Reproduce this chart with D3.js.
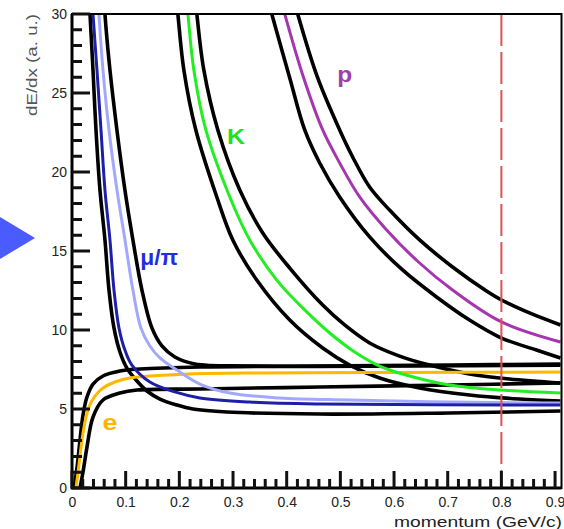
<!DOCTYPE html>
<html>
<head>
<meta charset="utf-8">
<script src="https://cdn.jsdelivr.net/npm/d3@7"></script>
<style>
  html, body { margin: 0; padding: 0; background: #fff; }
  svg { display: block; }
</style>
</head>
<body>
<svg id="chart" width="564" height="529"></svg>
<script>
// dE/dx vs momentum - expected bands for e, mu/pi, K, p
const svg = d3.select("#chart");
const width = +svg.attr("width");
const height = +svg.attr("height");

const margin = { top: 14, right: 2.5, bottom: 41, left: 72 };

// Axis ticks
const xMajor = [0, 0.1, 0.2, 0.3, 0.4, 0.5, 0.6, 0.7, 0.8, 0.9];
const xMinor = d3.range(0, 46).map((i) => i * 0.02);
const yMajor = [0, 5, 10, 15, 20, 25, 30];
const yMinor = d3.range(0, 31);
const cutMomentum = 0.8;

// Curves as [momentum, dE/dx]
const pCenter = [[0.387, 31.2], [0.3964, 30.0], [0.4317, 25.95], [0.4671, 22.66], [0.4987, 20.57], [0.5359, 18.42], [0.5862, 16.33], [0.6476, 14.24], [0.709, 12.53], [0.8002, 10.51], [0.91, 9.24]];
const pHigh = [[0.4112, 31.2], [0.4205, 30.0], [0.4578, 25.95], [0.4987, 22.66], [0.5229, 20.95], [0.5545, 19.05], [0.5917, 17.59], [0.6476, 15.7], [0.709, 13.99], [0.7722, 12.47], [0.8002, 11.9], [0.8523, 11.08], [0.91, 10.32]];
const pLow = [[0.3629, 31.2], [0.3722, 30.0], [0.4057, 25.95], [0.4336, 22.66], [0.4615, 20.57], [0.4987, 18.42], [0.5545, 15.89], [0.6159, 13.8], [0.6792, 12.09], [0.7406, 10.63], [0.8002, 9.49], [0.8653, 8.73], [0.91, 8.23]];

const kCenter = [[0.2121, 31.2], [0.2159, 30.0], [0.227, 26.46], [0.2494, 22.66], [0.294, 18.42], [0.3312, 15.7], [0.3815, 13.16], [0.4336, 11.27], [0.4801, 9.81], [0.5266, 8.61], [0.5731, 7.72], [0.629, 7.09], [0.7034, 6.52], [0.7964, 6.2], [0.91, 6.01]];
const kHigh = [[0.2289, 31.2], [0.2326, 30.0], [0.2456, 26.46], [0.2717, 22.66], [0.3126, 18.86], [0.3554, 16.14], [0.4057, 13.92], [0.4671, 11.58], [0.508, 10.32], [0.5545, 9.18], [0.6103, 8.35], [0.6662, 7.78], [0.7406, 7.22], [0.815, 6.9], [0.91, 6.65]];
const kLow = [[0.1935, 31.2], [0.1972, 30.0], [0.2084, 26.46], [0.2307, 22.66], [0.2698, 18.42], [0.2996, 15.7], [0.3442, 13.16], [0.4057, 10.63], [0.4671, 8.86], [0.5173, 7.78], [0.5731, 6.96], [0.6476, 6.33], [0.7406, 5.89], [0.8336, 5.63], [0.91, 5.51]];

const piCenter = [[0.0484, 31.2], [0.0502, 30.0], [0.0577, 26.46], [0.0689, 22.66], [0.0838, 18.86], [0.0987, 15.7], [0.1135, 12.53], [0.1284, 10.13], [0.1451, 8.99], [0.1638, 8.23], [0.201, 7.34], [0.2382, 6.58], [0.294, 6.01], [0.387, 5.7], [0.5173, 5.57], [0.7034, 5.44], [0.91, 5.38]];
const muCenter = [[0.0372, 31.2], [0.0391, 30.0], [0.0465, 26.46], [0.054, 22.66], [0.0614, 18.86], [0.0707, 15.7], [0.0782, 12.53], [0.0875, 10.13], [0.0986, 8.73], [0.1116, 7.78], [0.1451, 6.71], [0.1917, 6.08], [0.2382, 5.7], [0.3312, 5.44], [0.4615, 5.32], [0.91, 5.25]];
const muLow = [[0.0316, 31.2], [0.0335, 30.0], [0.0391, 26.46], [0.0447, 22.66], [0.0521, 18.86], [0.0614, 15.7], [0.0689, 12.53], [0.0782, 10.13], [0.0893, 8.61], [0.1023, 7.59], [0.121, 6.77], [0.1396, 6.14], [0.1638, 5.63], [0.1954, 5.25], [0.2252, 5.0], [0.2884, 4.81], [0.4615, 4.68], [0.7034, 4.75], [0.91, 4.87]];
const piHigh = [[0.0595, 31.2], [0.0614, 30.0], [0.0707, 26.46], [0.0837, 22.66], [0.0986, 18.86], [0.1135, 15.7], [0.1303, 12.53], [0.1489, 10.13], [0.1675, 8.99], [0.1917, 8.29], [0.2289, 7.85], [0.3312, 7.72], [0.6103, 7.72], [0.91, 7.78]];

const eCenter = [[0.0074, 0], [0.013, 1.46], [0.0186, 3.04], [0.0242, 4.18], [0.0316, 5.13], [0.0428, 5.82], [0.0577, 6.33], [0.08, 6.71], [0.1079, 6.96], [0.1451, 7.09], [0.2196, 7.22], [0.3498, 7.28], [0.6103, 7.31], [0.91, 7.34]];
const eHigh = [[0.0037, 0], [0.0093, 1.27], [0.0149, 3.04], [0.0205, 4.62], [0.0279, 5.76], [0.0391, 6.58], [0.0577, 7.09], [0.0893, 7.41], [0.1265, 7.53], [0.2382, 7.66], [0.4615, 7.72], [0.7034, 7.78], [0.91, 7.85]];
const eLow = [[0.0149, 0], [0.0205, 1.01], [0.0279, 2.59], [0.0391, 4.49], [0.0577, 5.57], [0.0893, 6.01], [0.121, 6.2], [0.2382, 6.27], [0.4615, 6.39], [0.7034, 6.52], [0.91, 6.65]];

// Scales
const xMax = 0.912;
const x = d3.scaleLinear().domain([0, xMax]).range([margin.left, width - margin.right]);
const y = d3.scaleLinear().domain([0, 30]).range([height - margin.bottom, margin.top]);

svg.append("defs").append("clipPath").attr("id", "plot-clip")
  .append("rect")
  .attr("x", x(0)).attr("y", y(30))
  .attr("width", x(xMax) - x(0)).attr("height", y(0) - y(30));

const curveLine = d3.line()
  .x((d) => x(d[0]))
  .y((d) => y(d[1]))
  .curve(d3.curveCatmullRom.alpha(0.5));

const plot = svg.append("g").attr("clip-path", "url(#plot-clip)");

// black band edges first, coloured centres on top
const bands = [pHigh, pLow, kHigh, kLow, muLow, piHigh, eHigh, eLow];
plot.append("g")
  .selectAll("path")
  .data(bands)
  .join("path")
  .attr("d", curveLine)
  .attr("fill", "none")
  .attr("stroke", "#000")
  .attr("stroke-width", 3.6);

const centres = [
  { pts: eCenter, color: "#ffb800" },
  { pts: piCenter, color: "#a3a8ff" },
  { pts: muCenter, color: "#1d1fa6" },
  { pts: kCenter, color: "#22ee22" },
  { pts: pCenter, color: "#a536b0" },
];
plot.append("g")
  .selectAll("path")
  .data(centres)
  .join("path")
  .attr("d", (d) => curveLine(d.pts))
  .attr("fill", "none")
  .attr("stroke", (d) => d.color)
  .attr("stroke-width", 3);

// momentum cut
plot.append("path")
  .attr("d", `M${x(cutMomentum)},${y(30)}V${y(0)}`)
  .attr("stroke", "#e05050")
  .attr("stroke-width", 2)
  .attr("stroke-dasharray", "32,6");

// Axes: ROOT style, labels from d3 axes, ticks pointing into the frame
const fontFamily = "'Liberation Sans', Arial, sans-serif";

const xAxisG = svg.append("g")
  .attr("transform", `translate(0,${y(0)})`)
  .call(d3.axisBottom(x).tickValues(xMajor).tickSizeOuter(0).tickPadding(5)
    .tickFormat((d) => String(+d.toFixed(1))));
const yAxisG = svg.append("g")
  .attr("transform", `translate(${x(0)},0)`)
  .call(d3.axisLeft(y).tickValues(yMajor).tickSizeOuter(0).tickPadding(5));

[xAxisG, yAxisG].forEach((g) => {
  g.select(".domain").remove();
  g.selectAll(".tick line").remove();
  g.selectAll(".tick text")
    .attr("font-family", fontFamily)
    .attr("font-size", 14)
    .attr("fill", "#222");
});
xAxisG.selectAll(".tick text").attr("y", 9);
yAxisG.selectAll(".tick text").attr("x", -5);

// frame
svg.append("rect")
  .attr("x", x(0)).attr("y", y(30))
  .attr("width", x(xMax) - x(0)).attr("height", y(0) - y(30))
  .attr("fill", "none").attr("stroke", "#000").attr("stroke-width", 2);
svg.append("path")
  .attr("d", `M${x(0)},${y(30)}V${y(0)}H${x(xMax)}`)
  .attr("fill", "none").attr("stroke", "#000").attr("stroke-width", 3);

// axis titles
svg.append("text")
  .attr("x", width - 2).attr("y", 527)
  .attr("text-anchor", "end")
  .attr("font-family", fontFamily)
  .attr("font-size", 14)
  .attr("textLength", 168)
  .attr("lengthAdjust", "spacingAndGlyphs")
  .attr("fill", "#222")
  .text("momentum (GeV/c)");

svg.append("text")
  .attr("transform", `translate(37,${margin.top}) rotate(-90)`)
  .attr("text-anchor", "end")
  .attr("font-family", fontFamily)
  .attr("font-size", 14)
  .attr("textLength", 102)
  .attr("lengthAdjust", "spacingAndGlyphs")
  .attr("fill", "#555")
  .text("dE/dx (a. u.)");

// particle labels
const labels = [
  { text: "\u03bc/\u03c0", px: 0.127, v: 14.1, color: "#1f2fe0", len: 38 },
  { text: "K", px: 0.289, v: 21.8, color: "#22e022", len: 18 },
  { text: "p", px: 0.494, v: 25.7, color: "#a040a8", len: 15 },
  { text: "e", px: 0.057, v: 3.7, color: "#ffb400", len: 15 },
];
svg.append("g")
  .selectAll("text")
  .data(labels)
  .join("text")
  .attr("x", (d) => x(d.px))
  .attr("y", (d) => y(d.v))
  .attr("font-family", fontFamily)
  .attr("font-size", 22)
  .attr("font-weight", "bold")
  .attr("textLength", (d) => d.len)
  .attr("lengthAdjust", "spacingAndGlyphs")
  .attr("fill", (d) => d.color)
  .text((d) => d.text);

// pointer triangle on the left
svg.append("path")
  .attr("d", "M0,217L35,238L0,259Z")
  .attr("fill", "#4a5bff");

// tick marks, inward, drawn last so nothing covers them
const xTickPath = xMinor
  .map((d, i) => `M${x(d)},${y(0)}v${i % 5 === 0 ? -17 : -9}`)
  .join("");
const yTickPath = yMinor
  .map((d) => `M${x(0)},${y(d)}h${d % 5 === 0 ? 18 : 10}`)
  .join("");
svg.append("path")
  .attr("d", xTickPath + yTickPath)
  .attr("fill", "none")
  .attr("stroke", "#111")
  .attr("stroke-width", 3);
</script>
</body>
</html>
